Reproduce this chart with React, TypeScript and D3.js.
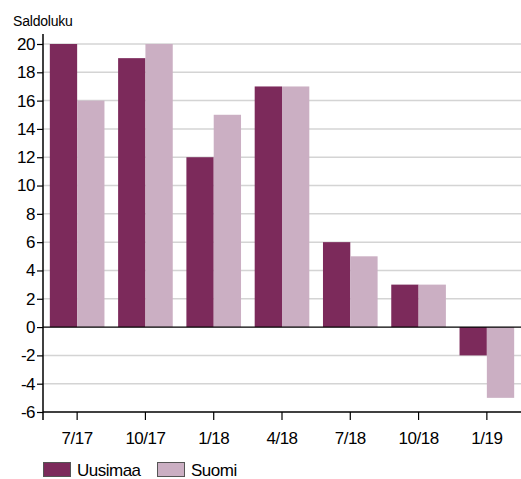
import React, { useEffect, useRef } from 'react'
import * as d3 from 'd3'

// kvartaalit ja saldoluvut
const categories = ['7/17', '10/17', '1/18', '4/18', '7/18', '10/18', '1/19']
const uusimaa = [20, 19, 12, 17, 6, 3, -2]
const suomi = [16, 20, 15, 17, 5, 3, -5]
const yTicks = [-6, -4, -2, 0, 2, 4, 6, 8, 10, 12, 14, 16, 18, 20]
const seriesNames = ['Uusimaa', 'Suomi']
const colors = ['#7c2a5b', '#cbafc3']

const W = 521
const H = 479
const margin = { top: 44, right: 0, bottom: 67, left: 43 }
const FONT = '"Liberation Sans", Arial, sans-serif'

export default function App() {
	const ref = useRef<SVGSVGElement>(null)

	useEffect(() => {
		const svg = d3.select(ref.current)
		svg.selectAll('*').remove()

		const x = d3.scaleBand().domain(categories).range([margin.left, W - margin.right])
		const xInner = d3.scaleBand().domain(seriesNames).range([0, x.bandwidth()]).paddingOuter(0.25)
		const y = d3.scaleLinear().domain([-6, 20]).range([H - margin.bottom, margin.top])

		// rasteri
		svg.append('g')
			.selectAll('line')
			.data(yTicks.filter(d => d !== 0 && d !== -6))
			.join('line')
			.attr('x1', margin.left)
			.attr('x2', W)
			.attr('y1', d => y(d))
			.attr('y2', d => y(d))
			.attr('stroke', '#d4d4d4')
			.attr('stroke-width', 1.5)

		// palkit
		const rows = categories.map((c, i) => ({ c, vals: [uusimaa[i], suomi[i]] }))
		const groups = svg.append('g')
			.selectAll('g')
			.data(rows)
			.join('g')
			.attr('transform', d => `translate(${x(d.c)},0)`)
		groups.selectAll('rect')
			.data(d => d.vals.map((v, j) => ({ v, s: seriesNames[j], j })))
			.join('rect')
			.attr('x', d => xInner(d.s)!)
			.attr('width', xInner.bandwidth())
			.attr('y', d => y(Math.max(0, d.v)))
			.attr('height', d => Math.abs(y(d.v) - y(0)))
			.attr('fill', d => colors[d.j])

		// nollaviiva
		svg.append('line')
			.attr('x1', margin.left).attr('x2', W)
			.attr('y1', y(0)).attr('y2', y(0))
			.attr('stroke', '#000').attr('stroke-width', 1.2)

		// y-akseli
		const yAxis = svg.append('g')
			.attr('transform', `translate(${margin.left},0)`)
			.call(d3.axisLeft(y).tickValues(yTicks).tickSize(6).tickFormat(d => String(d)))
		yAxis.select('.domain').attr('d', `M0,${y(20) - 10}V${y(-6) + 8}`).attr('stroke-width', 1.5)
		yAxis.selectAll('.tick line').attr('stroke-width', 1.2)
		yAxis.selectAll('text')
			.attr('font-family', FONT)
			.attr('font-size', 17)
			.attr('letter-spacing', -0.5)
			.attr('fill', '#000')
			.attr('x', -8)

		// x-akseli
		const xAxis = svg.append('g')
			.attr('transform', `translate(0,${y(-6)})`)
			.call(d3.axisBottom(x).tickSize(8).tickSizeOuter(0))
		xAxis.select('.domain').attr('d', `M${margin.left},0H${W}`).attr('stroke-width', 1.5)
		xAxis.selectAll('.tick line').attr('stroke-width', 1.2)
		xAxis.selectAll('text')
			.attr('font-family', FONT)
			.attr('font-size', 17)
			.attr('letter-spacing', -0.5)
			.attr('fill', '#000')
			.attr('y', 20)

		// otsikko
		svg.append('text')
			.attr('x', 13)
			.attr('y', 26)
			.attr('font-family', FONT)
			.attr('font-size', 14)
			.attr('letter-spacing', -0.2)
			.text('Saldoluku')

		// selite
		const legend = svg.append('g').attr('transform', `translate(${margin.left},462)`)
		const items = legend.selectAll('g')
			.data(seriesNames)
			.join('g')
			.attr('transform', (d, i) => `translate(${i * 114},0)`)
		items.append('rect')
			.attr('x', 0.5).attr('y', 0.5)
			.attr('width', 27).attr('height', 14)
			.attr('fill', (d, i) => colors[i])
			.attr('stroke', '#555')
			.attr('stroke-width', 1)
		items.append('text')
			.attr('x', 34)
			.attr('y', 14)
			.attr('font-family', FONT)
			.attr('font-size', 17)
			.attr('letter-spacing', -0.5)
			.text(d => d)
	}, [])

	return (
		<svg
			ref={ref}
			width={W}
			height={H}
			style={{ position: 'absolute', left: 0, top: 0, background: '#fff' }}
		/>
	)
}
